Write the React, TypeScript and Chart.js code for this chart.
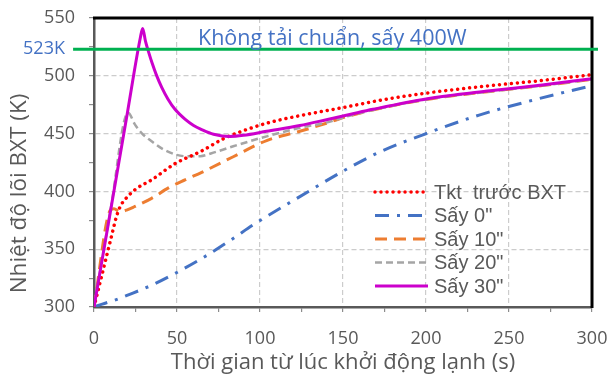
import React, { useEffect, useRef } from 'react';
import { Chart, registerables } from 'chart.js';

Chart.register(...registerables);

// ---------- data ----------
const SERIES_LABELS = ['Tkt  trước BXT', 'Sấy 0"', 'Sấy 10"', 'Sấy 20"', 'Sấy 30"'];

const tktTime = [0, 5, 10, 13.7, 16, 18.7, 24.7, 34.7, 48.8, 64.9, 77.9, 90, 104, 124, 150, 175, 200, 238.6, 270, 300];
const tktTemp = [300, 329, 358, 379, 387.5, 393, 401.5, 410, 424, 435, 445.5, 452.5, 459, 465.5, 472.5, 479.5, 485, 491.5, 496, 501];

const say0Time = [0, 5, 12.6, 20.7, 35, 48.8, 64.9, 81.9, 98, 124, 150, 172, 202, 232, 266, 300];
const say0Temp = [300, 302.5, 306, 310.5, 319, 329, 342, 357.5, 373, 395.5, 417.5, 434, 451, 466, 479.5, 491.5];

const say10Time = [0, 10, 12, 15.7, 20, 24.7, 34.7, 44.8, 54.8, 64.9, 83.9, 104, 124, 140, 154, 200, 238.6, 270, 300];
const say10Temp = [300, 384, 385, 382.5, 384, 387, 394, 403, 410, 416.5, 430, 444, 452, 459, 465.5, 479.5, 486.5, 491.5, 497];

const say20Time = [0, 10, 20.5, 24.7, 29, 34.7, 41, 48.8, 56.8, 64, 73, 83.9, 100, 124, 140, 154, 200, 238.6, 270, 300];
const say20Temp = [300, 384, 468, 457.8, 450, 443.4, 437, 432, 430.3, 430.5, 434, 439, 446, 455, 459.5, 465.5, 479.5, 486.5, 491.5, 497];

const say30Time = [0, 10, 20, 28, 29.3, 31, 33, 35, 37.5, 40.8, 44.5, 48.8, 54.8, 60, 64.9, 72, 81.9, 90, 104, 124, 140, 154, 168, 200, 238.6, 270, 300];
const say30Temp = [300, 383.5, 467, 533.5, 541, 530, 520, 511, 501, 490, 480, 471, 462.5, 457, 453.5, 449.5, 447.5, 448.5, 452, 457, 462, 466.5, 471, 480, 487, 492, 497.5];

const X_TICK_LABELS = [0, 50, 100, 150, 200, 250, 300];
const Y_TICK_LABELS = [300, 350, 400, 450, 500, 550];

const REF_TEMP = 523;
const REF_LABEL = '523K';
const REF_X_RANGE = [-12.6, 303.6];
const NOTE_TEXT = 'Không tải chuẩn, sấy 400W';
const X_TITLE = 'Thời gian từ lúc khởi động lạnh (s)';
const Y_TITLE = 'Nhiệt độ lõi BXT (K)';

// ---------- styles ----------
const GREY_TEXT = '#595959';
const BLUE_TEXT = '#4472C4';

const pts = (xs: number[], ys: number[]) => xs.map((x, i) => ({ x, y: ys[i] }));

const overlayPlugin = {
  id: 'overlay',
  afterDraw(chart: any) {
    const { ctx, chartArea, scales } = chart;
    const xs = scales.x;
    const ys = scales.y;
    ctx.save();
    // top & right frame
    ctx.strokeStyle = '#000000';
    ctx.lineWidth = 3;
    ctx.setLineDash([]);
    ctx.beginPath();
    ctx.moveTo(chartArea.left - 1, chartArea.top);
    ctx.lineTo(chartArea.right, chartArea.top);
    ctx.lineTo(chartArea.right, chartArea.bottom + 1);
    ctx.stroke();

    // reference line
    const gy = ys.getPixelForValue(REF_TEMP);
    ctx.strokeStyle = '#00B050';
    ctx.lineWidth = 3;
    ctx.beginPath();
    ctx.moveTo(xs.getPixelForValue(REF_X_RANGE[0]), gy);
    ctx.lineTo(xs.getPixelForValue(REF_X_RANGE[1]), gy);
    ctx.stroke();

    // texts
    ctx.fillStyle = BLUE_TEXT;
    ctx.font = '18px "Open Sans"';
    ctx.textAlign = 'center';
    ctx.textBaseline = 'alphabetic';
    ctx.fillText(REF_LABEL, 44, gy + 4.5);
    ctx.font = '21.5px "Open Sans"';
    ctx.textAlign = 'left';
    ctx.fillText(NOTE_TEXT, 198, gy - 4);

    // y title
    ctx.save();
    ctx.fillStyle = GREY_TEXT;
    ctx.font = '22.5px "Open Sans"';
    ctx.translate(26, 193.5);
    ctx.rotate(-Math.PI / 2);
    ctx.textAlign = 'center';
    ctx.textBaseline = 'alphabetic';
    ctx.fillText(Y_TITLE, 0, 0);
    ctx.restore();

    // legend
    const lx0 = 375;
    const lx1 = 428;
    const ly0 = 192;
    const step = 23.5;
    chart.data.datasets.forEach((ds: any, i: number) => {
      const yy = ly0 + i * step;
      ctx.save();
      ctx.strokeStyle = ds.borderColor;
      ctx.lineWidth = ds.borderWidth;
      ctx.lineCap = ds.borderCapStyle || 'butt';
      ctx.setLineDash(ds.borderDash || []);
      ctx.beginPath();
      ctx.moveTo(lx0, yy);
      ctx.lineTo(lx1, yy);
      ctx.stroke();
      ctx.restore();
      ctx.fillStyle = GREY_TEXT;
      ctx.font = '20px "Liberation Sans"';
      ctx.textAlign = 'left';
      ctx.textBaseline = 'middle';
      ctx.fillText(ds.label, lx1 + 6, yy + 1);
    });
    ctx.restore();
  },
};

export default function App() {
  const ref = useRef<HTMLCanvasElement | null>(null);

  useEffect(() => {
    if (!ref.current) return;
    const common = { pointRadius: 0, fill: false, cubicInterpolationMode: 'monotone' as const };
    const chart = new Chart(ref.current, {
      type: 'line',
      data: {
        datasets: [
          { ...common, label: SERIES_LABELS[0], data: pts(tktTime, tktTemp), borderColor: '#FF0000', borderWidth: 3.5, borderDash: [0.01, 6], borderCapStyle: 'round', order: 1 },
          { ...common, label: SERIES_LABELS[1], data: pts(say0Time, say0Temp), borderColor: '#4472C4', borderWidth: 3, borderDash: [14, 8, 3, 8], order: 4 },
          { ...common, label: SERIES_LABELS[2], data: pts(say10Time, say10Temp), borderColor: '#ED7D31', borderWidth: 3, borderDash: [12, 7], order: 3 },
          { ...common, label: SERIES_LABELS[3], data: pts(say20Time, say20Temp), borderColor: '#A5A5A5', borderWidth: 2.5, borderDash: [7, 4], order: 2 },
          { ...common, label: SERIES_LABELS[4], data: pts(say30Time, say30Temp), borderColor: '#CC00CC', borderWidth: 3, borderDash: [], order: 0 },
        ] as any,
      },
      options: {
        animation: false,
        responsive: false,
        events: [],
        layout: { padding: { left: 0, top: 18, right: 19, bottom: 0 } },
        plugins: { legend: { display: false }, tooltip: { enabled: false } },
        scales: {
          x: {
            type: 'linear',
            min: 0,
            max: 300,
            afterFit: (s: any) => { s.height = 67; s.paddingLeft = 0; s.paddingRight = 0; },
            ticks: {
              stepSize: 25,
              autoSkip: false,
              maxRotation: 0,
              padding: 16,
              color: GREY_TEXT,
              font: { family: '"Open Sans"', size: 18 },
              callback: (v: any) => (X_TICK_LABELS.includes(Number(v)) ? String(v) : ''),
            },
            grid: {
              color: (c: any) => (c.tick && X_TICK_LABELS.includes(c.tick.value) ? '#cccccc' : 'rgba(0,0,0,0)'),
              lineWidth: 1.2,
              tickLength: 5,
              tickColor: '#8c8c8c',
              tickWidth: 1.2,
            },
            border: { color: '#595959', width: 2.5, dash: [5, 3] },
            title: {
              display: true,
              text: X_TITLE,
              color: GREY_TEXT,
              font: { family: '"Open Sans"', size: 22, lineHeight: 1 },
              padding: { top: 0, bottom: 0.5 },
            },
          },
          y: {
            type: 'linear',
            min: 300,
            max: 550,
            afterFit: (s: any) => { s.width = 94; s.paddingTop = 0; s.paddingBottom = 0; },
            ticks: {
              stepSize: 25,
              autoSkip: false,
              padding: 14,
              color: GREY_TEXT,
              font: { family: '"Open Sans"', size: 18 },
              callback: (v: any) => (Y_TICK_LABELS.includes(Number(v)) ? String(v) : ''),
            },
            grid: {
              color: (c: any) => (c.tick && Y_TICK_LABELS.includes(c.tick.value) ? '#cccccc' : 'rgba(0,0,0,0)'),
              lineWidth: 1.2,
              tickLength: 5,
              tickColor: '#8c8c8c',
              tickWidth: 1.2,
            },
            border: { color: '#595959', width: 2.5, dash: [5, 3] },
          },
        },
      } as any,
      plugins: [overlayPlugin],
    });
    return () => chart.destroy();
  }, []);

  return (
    <div style={{ position: 'absolute', left: 0, top: 0, width: 611, height: 374, background: '#ffffff' }}>
      <canvas ref={ref} width={611} height={374} />
    </div>
  );
}
